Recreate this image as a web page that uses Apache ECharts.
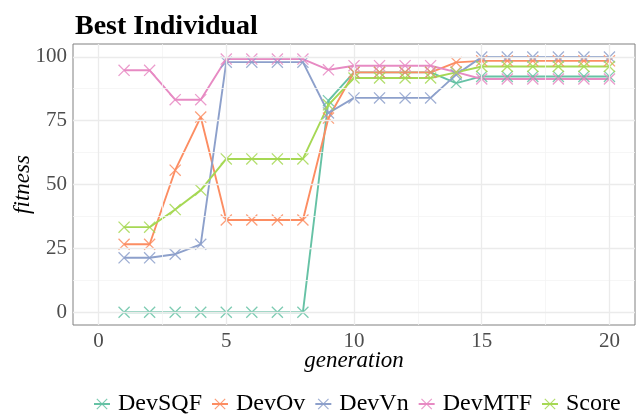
<!DOCTYPE html>
<html>
<head>
<meta charset="utf-8">
<script src="https://cdn.jsdelivr.net/npm/echarts@6/dist/echarts.min.js"></script>
<style>html,body{margin:0;padding:0;background:#fff;}#c{width:636px;height:416px;}</style>
</head>
<body>
<div id="c"></div>
<script>
const generations = [1,2,3,4,5,6,7,8,9,10,11,12,13,14,15,16,17,18,19,20];
const DevSQF = [0,0,0,0,0,0,0,0,82.8,93.9,93.9,93.9,93.9,89.7,92.3,92.3,92.3,92.3,92.3,92.3];
const DevOv  = [26.6,26.6,55.6,76.4,36.1,36.1,36.1,36.1,76.0,93.9,93.9,93.9,93.9,97.8,98.4,98.4,98.4,98.4,98.4,98.4];
const DevVn  = [21.3,21.3,22.7,26.6,97.9,97.9,97.9,97.9,78.0,83.9,83.9,83.9,83.9,93.0,99.9,99.9,99.9,99.9,99.9,99.9];
const DevMTF = [94.7,94.7,83.2,83.2,99.1,99.1,99.1,99.1,94.9,96.5,96.5,96.5,96.5,94.0,91.3,91.3,91.3,91.3,91.3,91.3];
const Score  = [33.3,33.3,40.2,47.8,60.0,60.0,60.0,60.0,81.2,91.7,91.7,91.7,91.7,93.9,96.2,96.2,96.2,96.2,96.2,96.2];
const seriesNames = ['DevSQF','DevOv','DevVn','DevMTF','Score'];
const xTicks = [0,5,10,15,20];
const yTicks = [0,25,50,75,100];
const xMinor = [2.5,7.5,12.5,17.5];
const yMinor = [12.5,37.5,62.5,87.5];

const colors = ['#66C2A5','#FC8D62','#8DA0CB','#E78AC3','#A6D854'];
const values = [DevSQF, DevOv, DevVn, DevMTF, Score];
const XPATH = 'path://M0,0.9 L0.9,0 L12,11.1 L11.1,12 Z M11.1,0 L12,0.9 L0.9,12 L0,11.1 Z';
const serif = '"Liberation Serif", "DejaVu Serif", serif';

const gridSeries = {
  type: 'line', data: [], silent: true, z: 1,
  markLine: {
    silent: true, symbol: 'none', animation: false, label: {show: false},
    data: [
      ...xMinor.map(v => ({xAxis: v, lineStyle: {color: '#f4f4f4', width: 0.8, type: 'solid'}})),
      ...yMinor.map(v => ({yAxis: v, lineStyle: {color: '#f4f4f4', width: 0.8, type: 'solid'}})),
      ...xTicks.map(v => ({xAxis: v, lineStyle: {color: '#ebebeb', width: 1.3, type: 'solid'}})),
      ...yTicks.map(v => ({yAxis: v, lineStyle: {color: '#ebebeb', width: 1.3, type: 'solid'}}))
    ]
  }
};

const dataSeries = seriesNames.map((name, i) => ({
  name: name,
  type: 'line',
  z: 3,
  data: generations.map((g, k) => [g, values[i][k]]),
  symbol: XPATH,
  symbolSize: 12,
  showSymbol: true,
  animation: false,
  lineStyle: {color: colors[i], width: 1.9},
  itemStyle: {color: colors[i], opacity: 0.85},
  emphasis: {disabled: true}
}));

const chart = echarts.init(document.getElementById('c'), null, {renderer: 'canvas'});
chart.setOption({
  animation: false,
  backgroundColor: '#fff',
  color: colors,
  title: {
    text: 'Best Individual', left: 70, top: 8,
    textStyle: {fontFamily: serif, fontWeight: 'bold', fontSize: 28, color: '#000'}
  },
  grid: {left: 73, right: 1, top: 44, bottom: 91, show: true, borderColor: '#808080', borderWidth: 1,
         containLabel: false, outerBoundsMode: 'none'},
  xAxis: {
    type: 'value', min: -1, max: 21,
    name: 'generation', nameLocation: 'middle', nameGap: 24, nameMoveOverlap: false,
    nameTextStyle: {fontFamily: serif, fontStyle: 'italic', fontSize: 23, color: '#000', verticalAlign: 'top'},
    axisLine: {show: false},
    axisTick: {show: true, length: 4, customValues: xTicks, lineStyle: {color: '#333'}},
    axisLabel: {customValues: xTicks, margin: 6, fontFamily: serif, fontSize: 21, color: '#4d4d4d'},
    splitLine: {show: false}
  },
  yAxis: {
    type: 'value', min: -5, max: 105,
    name: 'fitness', nameLocation: 'middle', nameGap: 39, nameRotate: 90, nameMoveOverlap: false,
    nameTextStyle: {fontFamily: serif, fontStyle: 'italic', fontSize: 23, color: '#000'},
    axisLine: {show: false},
    axisTick: {show: true, length: 4, customValues: yTicks, lineStyle: {color: '#333'}},
    axisLabel: {customValues: yTicks, margin: 6, fontFamily: serif, fontSize: 21, color: '#4d4d4d'},
    splitLine: {show: false}
  },
  legend: {
    data: seriesNames, top: 387, left: 88, itemWidth: 16, itemHeight: 14, itemGap: 9,
    textStyle: {fontFamily: serif, fontSize: 24, color: '#000', padding: [0,0,0,3]}
  },
  series: [gridSeries, ...dataSeries]
});
</script>
</body>
</html>
